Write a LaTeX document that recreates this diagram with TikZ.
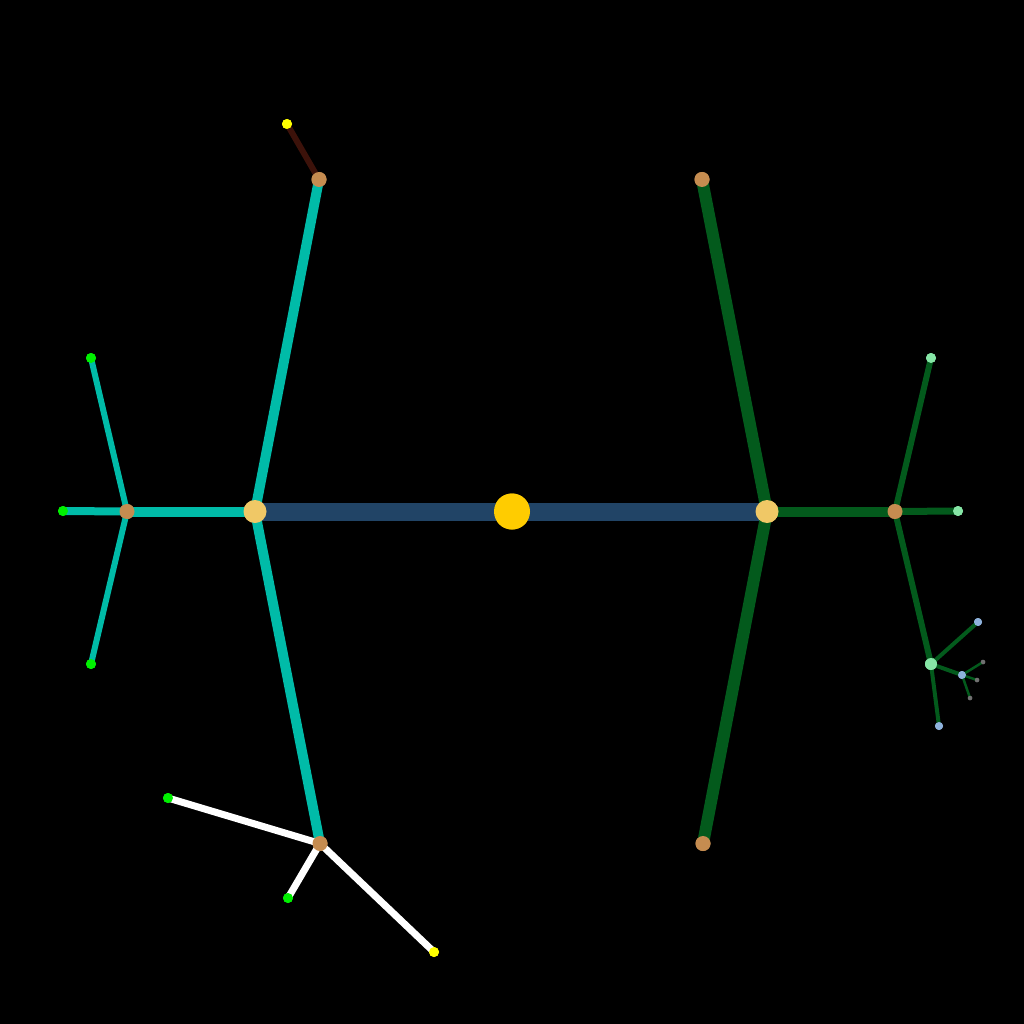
\documentclass[tikz,border=0pt]{standalone}
\definecolor{bgc}{HTML}{000000}
\definecolor{gold}{HTML}{FFCC00}
\definecolor{hubc}{HTML}{F0C866}
\definecolor{brownn}{HTML}{C58C50}
\definecolor{greenn}{HTML}{00F000}
\definecolor{yelln}{HTML}{FFFF00}
\definecolor{lgreen}{HTML}{86E6A6}
\definecolor{lblue}{HTML}{8EB2DC}
\definecolor{greyn}{HTML}{707070}
\definecolor{navy}{HTML}{214466}
\definecolor{teal}{HTML}{00BBA8}
\definecolor{dgreen}{HTML}{035A1C}
\definecolor{dbrown}{HTML}{3C120A}
\begin{document}
\begin{tikzpicture}[x=1pt,y=-1pt,
  nd/.style={circle,inner sep=0pt,draw=none}]
\fill[bgc] (0,0) rectangle (1024,1024);
\useasboundingbox (0,0) rectangle (1024,1024);
% nodes
\node[nd,fill=gold,minimum size=36pt] (c) at (512,511.5) {};
\node[nd,fill=hubc,minimum size=23pt] (lh) at (255,511.5) {};
\node[nd,fill=hubc,minimum size=23pt] (rh) at (767,511.5) {};
\node[nd,fill=brownn,minimum size=15pt] (lb) at (127,511.5) {};
\node[nd,fill=greenn,minimum size=10pt] (l1) at (63,511) {};
\node[nd,fill=greenn,minimum size=10pt] (l2) at (91,358) {};
\node[nd,fill=greenn,minimum size=10pt] (l3) at (91,664) {};
\node[nd,fill=brownn,minimum size=15pt] (lt) at (319,179.5) {};
\node[nd,fill=yelln,minimum size=10pt] (lty) at (287,124) {};
\node[nd,fill=brownn,minimum size=15pt] (ld) at (320,843.5) {};
\node[nd,fill=greenn,minimum size=10pt] (ld1) at (168,798) {};
\node[nd,fill=greenn,minimum size=10pt] (ld2) at (288,898) {};
\node[nd,fill=yelln,minimum size=10pt] (ld3) at (434,952) {};
\node[nd,fill=brownn,minimum size=15pt] (rt) at (702,179.5) {};
\node[nd,fill=brownn,minimum size=15pt] (rd) at (703,843.5) {};
\node[nd,fill=brownn,minimum size=15pt] (rb) at (895,511.5) {};
\node[nd,fill=lgreen,minimum size=10pt] (r1) at (958,511) {};
\node[nd,fill=lgreen,minimum size=10pt] (r2) at (931,358) {};
\node[nd,fill=lgreen,minimum size=12pt] (r3) at (931,664) {};
\node[nd,fill=lblue,minimum size=8pt] (s1) at (978,622) {};
\node[nd,fill=lblue,minimum size=8pt] (s2) at (962,675) {};
\node[nd,fill=lblue,minimum size=8pt] (s3) at (939,726) {};
\node[nd,fill=greyn,minimum size=4.5pt] (g1) at (983,662) {};
\node[nd,fill=greyn,minimum size=4.5pt] (g2) at (977,680) {};
\node[nd,fill=greyn,minimum size=4.5pt] (g3) at (970,698) {};
% edges
\draw[navy,line width=18pt] (lh.center) -- (rh.center);
\draw[teal,line width=10pt] (lh.center) -- (lb.center);
\draw[teal,line width=8pt] (lb.center) -- (l1.center);
\draw[teal,line width=6pt] (lb.center) -- (l2.center);
\draw[teal,line width=6pt] (lb.center) -- (l3.center);
\draw[teal,line width=10pt] (lh.center) -- (lt.center);
\draw[dbrown,line width=6pt] (lt.center) -- (lty.center);
\draw[teal,line width=10pt] (lh.center) -- (ld.center);
\draw[white,line width=7pt] (ld.center) -- (ld1.center);
\draw[white,line width=7pt] (ld.center) -- (ld2.center);
\draw[white,line width=7pt] (ld.center) -- (ld3.center);
\draw[dgreen,line width=12pt] (rh.center) -- (rt.center);
\draw[dgreen,line width=12pt] (rh.center) -- (rd.center);
\draw[dgreen,line width=10pt] (rh.center) -- (rb.center);
\draw[dgreen,line width=7pt] (rb.center) -- (r1.center);
\draw[dgreen,line width=6pt] (rb.center) -- (r2.center);
\draw[dgreen,line width=6pt] (rb.center) -- (r3.center);
\draw[dgreen,line width=4pt] (r3.center) -- (s1.center);
\draw[dgreen,line width=4pt] (r3.center) -- (s2.center);
\draw[dgreen,line width=4pt] (r3.center) -- (s3.center);
\draw[dgreen,line width=2.5pt] (s2.center) -- (g1.center);
\draw[dgreen,line width=2.5pt] (s2.center) -- (g2.center);
\draw[dgreen,line width=2.5pt] (s2.center) -- (g3.center);
% redraw nodes on top
\foreach \n/\c/\s in {c/gold/36,lh/hubc/23,rh/hubc/23,lb/brownn/15,l1/greenn/10,l2/greenn/10,l3/greenn/10,lt/brownn/15,lty/yelln/10,ld/brownn/15,ld1/greenn/10,ld2/greenn/10,ld3/yelln/10,rt/brownn/15,rd/brownn/15,rb/brownn/15,r1/lgreen/10,r2/lgreen/10,r3/lgreen/12,s1/lblue/8,s2/lblue/8,s3/lblue/8,g1/greyn/4.5,g2/greyn/4.5,g3/greyn/4.5}
  \fill[\c] (\n.center) circle (\s/2);
\end{tikzpicture}
\end{document}
